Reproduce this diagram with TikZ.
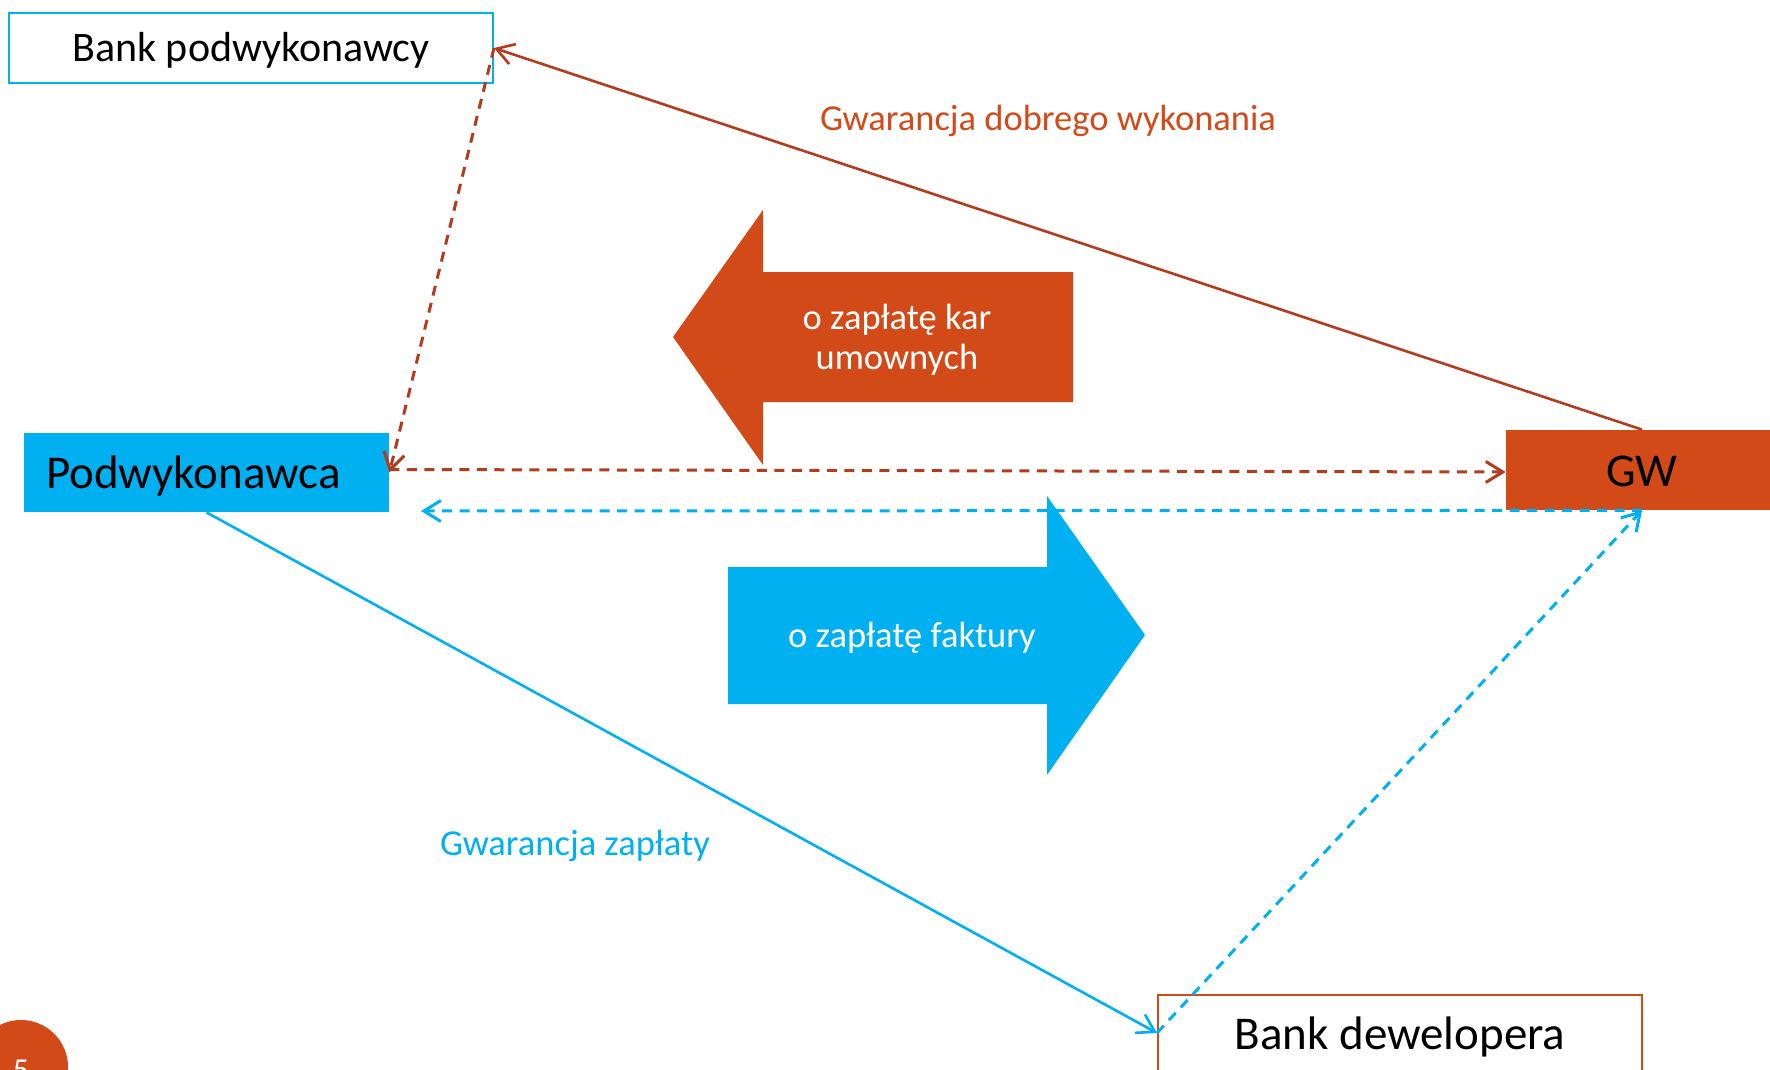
\documentclass[tikz,border=0pt]{standalone}
\usepackage{fontspec}
\setmainfont{Carlito}
\usetikzlibrary{positioning, calc, arrows.meta}
\definecolor{accentblue}{HTML}{00B0F0}
\definecolor{accentorange}{HTML}{D24A18}
\definecolor{linebrown}{HTML}{B23C1C}

\begin{document}
\begin{tikzpicture}[x=1pt, y=-1pt, node distance=1435.5pt, auto, thick, >={Straight Barb[length=17pt, width=21pt]}]
    % Define block styles
    \tikzstyle{block} = [rectangle, inner sep=0pt, minimum height=76pt, text height=43pt, text depth=11pt, font=\fontsize{47}{56}\selectfont]
    \tikzstyle{bigtext} = [align=center, text=white, font=\fontsize{36.5}{40}\selectfont]
    \tikzstyle{guarantee} = [align=center, text height=33.6pt, text depth=8.8pt, font=\fontsize{36.5}{44}\selectfont]
    \tikzstyle{link} = [line width=2.6pt]
    \tikzstyle{dashlink} = [line width=3pt, dash pattern=on 10pt off 7.5pt]

    \useasboundingbox (0,0) rectangle (1770,1070);
    \clip (0,0) rectangle (1770,1070);

    % Place nodes
    \node [block, fill=accentblue, text width=321pt, inner xsep=22pt, minimum height=79pt, align=left] (podwyk) at (206.5,472.5) {Podwykonawca};
    \node [block, fill=accentorange, right of=podwyk, yshift=2.5pt, minimum width=272pt, minimum height=80pt] (gw) {GW};
    \node [block, draw=accentblue, line width=2pt, minimum width=484pt, minimum height=70pt, text height=37.5pt, text depth=10pt, font=\fontsize{42}{50}\selectfont] (bankpod) at (251,48) {Bank podwykonawcy};
    \node [block, draw=accentorange, line width=2pt, minimum width=484pt] (bankdew) at (1400,1033) {Bank dewelopera};

    % Big arrows
    \fill [accentorange] (1073,272) -- (763,272) -- (763,210) -- (673,337) -- (763,465) -- (763,402) -- (1073,402) -- cycle;
    \node [bigtext] (kary) at (897,339.5) {o zapłatę kar\\umownych};
    \fill [accentblue] (728,567) -- (1047,567) -- (1047,496) -- (1145,635) -- (1047,775) -- (1047,704) -- (728,704) -- cycle;
    \node [bigtext] (faktura) at (912,638) {o zapłatę faktury};

    % Page number
    \fill [accentorange] (21,1067) circle (47pt);
    \node [text=white, font=\fontsize{32}{38}\selectfont] (page) at (21,1070) {5};

    % Draw connections as arrows
    \draw [->, link, linebrown] (gw.north) -- (bankpod.east);
    \draw [->, dashlink, linebrown] (bankpod.east) -- (podwyk.east);
    \draw [->, dashlink, linebrown] ($(podwyk.east)+(0,-3)$) -- ($(gw.west)+(0,2)$);
    \coordinate (payend) at (421,511);
    \draw [->, dashlink, accentblue] (gw.south) -- (payend);
    \draw [->, dashlink, accentblue] (bankdew.west) -- (gw.south);
    \draw [->, link, accentblue] (podwyk.south) -- (bankdew.west);

    % Add text on the arrows
    \node [guarantee, text=accentorange] (dobre) at (1048,118.6) {Gwarancja dobrego wykonania};
    \node [guarantee, text=accentblue] (zaplata) at (575,842.6) {Gwarancja zapłaty};
\end{tikzpicture}
\end{document}
